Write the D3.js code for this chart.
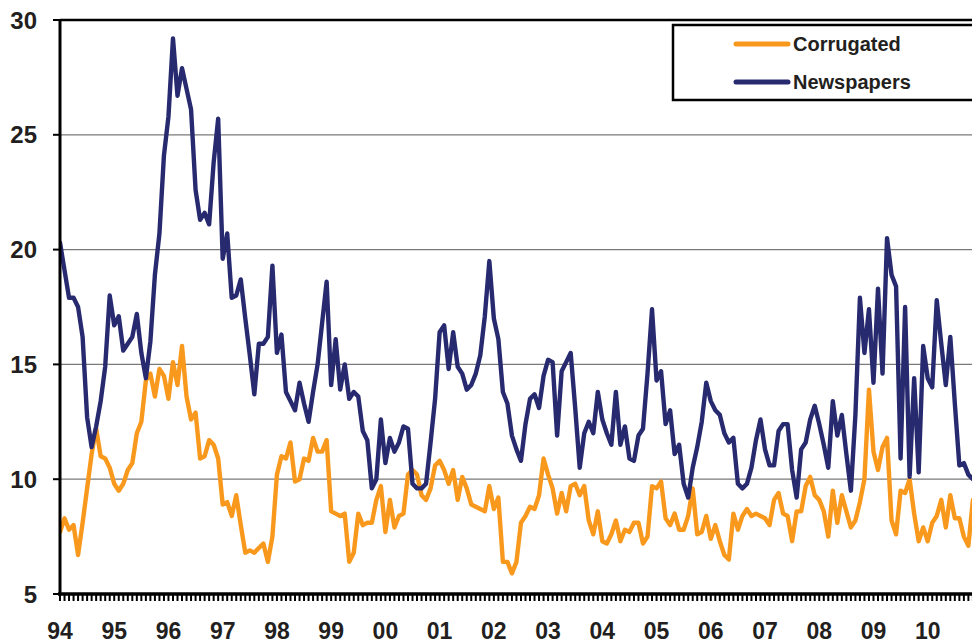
<!DOCTYPE html>
<html>
<head>
<meta charset="utf-8">
<script src="https://cdn.jsdelivr.net/npm/d3@7"></script>
<style>
  html, body { margin: 0; padding: 0; background: #fff; }
  svg { display: block; }
  text { font-family: "Liberation Sans", Arial, sans-serif; font-weight: bold; fill: #231F20; }
</style>
</head>
<body>
<svg id="chart" width="972" height="644"></svg>
<script>
// Monthly values, Jan 1994 onwards
const corrugated = [
  7.7, 8.3, 7.8, 8.0, 6.7, 8.1, 9.6, 11.1, 12.2, 11.0, 10.9, 10.5,      // 1994
  9.8, 9.5, 9.8, 10.4, 10.7, 12.0, 12.5, 14.3, 14.6, 13.6, 14.8, 14.5,  // 1995
  13.5, 15.1, 14.1, 15.8, 13.6, 12.6, 12.9, 10.9, 11.0, 11.7, 11.5, 10.9, // 1996
  8.9, 9.0, 8.4, 9.3, 8.0, 6.8, 6.9, 6.8, 7.0, 7.2, 6.4, 7.5,           // 1997
  10.2, 11.0, 10.9, 11.6, 9.9, 10.0, 10.9, 10.8, 11.8, 11.2, 11.2, 11.7, // 1998
  8.6, 8.5, 8.4, 8.5, 6.4, 6.8, 8.5, 8.0, 8.1, 8.1, 9.1, 9.7,           // 1999
  7.7, 9.1, 7.9, 8.4, 8.5, 10.2, 10.4, 10.2, 9.3, 9.1, 9.6, 10.6,       // 2000
  10.8, 10.4, 9.8, 10.4, 9.1, 10.1, 9.6, 8.9, 8.8, 8.7, 8.6, 9.7,       // 2001
  8.7, 9.2, 6.4, 6.4, 5.9, 6.4, 8.1, 8.4, 8.8, 8.7, 9.3, 10.9,          // 2002
  10.2, 9.6, 8.5, 9.4, 8.6, 9.7, 9.8, 9.3, 9.7, 8.2, 7.6, 8.6,          // 2003
  7.3, 7.2, 7.6, 8.2, 7.3, 7.8, 7.7, 8.1, 8.1, 7.2, 7.5, 9.7,           // 2004
  9.6, 9.9, 8.3, 8.0, 8.5, 7.8, 7.8, 8.4, 9.6, 7.6, 7.7, 8.4,           // 2005
  7.4, 8.0, 7.3, 6.7, 6.5, 8.5, 7.8, 8.4, 8.7, 8.4, 8.5, 8.4,           // 2006
  8.3, 8.0, 9.1, 9.4, 8.5, 8.4, 7.3, 8.6, 8.6, 9.7, 10.1, 9.3,          // 2007
  9.1, 8.6, 7.5, 9.5, 8.1, 9.3, 8.6, 7.9, 8.2, 9.0, 10.0, 13.9,         // 2008
  11.2, 10.4, 11.4, 11.8, 8.2, 7.6, 9.5, 9.4, 10.0, 8.5, 7.3, 7.9,      // 2009
  7.3, 8.1, 8.4, 9.1, 7.9, 9.3, 8.3, 8.3, 7.5, 7.1, 9.1                 // 2010
];
const newspapers = [
  20.3, 19.1, 17.9, 17.9, 17.5, 16.2, 12.7, 11.4, 12.3, 13.4, 14.9, 18.0, // 1994
  16.7, 17.1, 15.6, 15.9, 16.2, 17.2, 15.5, 14.4, 16.0, 18.9, 20.7, 24.1, // 1995
  25.8, 29.2, 26.7, 27.9, 27.0, 26.1, 22.6, 21.3, 21.6, 21.1, 23.8, 25.7, // 1996
  19.6, 20.7, 17.9, 18.0, 18.7, 17.0, 15.4, 13.7, 15.9, 15.9, 16.2, 19.3, // 1997
  15.5, 16.3, 13.8, 13.4, 13.0, 14.2, 13.3, 12.5, 13.8, 15.0, 16.8, 18.6, // 1998
  14.1, 16.1, 13.9, 15.0, 13.5, 13.8, 13.6, 12.1, 11.7, 9.6, 10.0, 12.6,  // 1999
  10.7, 11.8, 11.2, 11.6, 12.3, 12.2, 9.8, 9.6, 9.6, 9.8, 11.6, 13.5,     // 2000
  16.4, 16.7, 14.8, 16.4, 14.9, 14.6, 13.9, 14.1, 14.6, 15.4, 17.1, 19.5, // 2001
  17.0, 16.1, 13.8, 13.3, 11.9, 11.3, 10.8, 12.4, 13.5, 13.7, 13.1, 14.5, // 2002
  15.2, 15.1, 11.9, 14.7, 15.1, 15.5, 13.1, 10.5, 12.0, 12.5, 12.0, 13.8, // 2003
  12.6, 12.0, 11.5, 13.8, 11.5, 12.3, 10.9, 10.8, 11.9, 12.2, 14.6, 17.4, // 2004
  14.3, 14.7, 12.4, 13.0, 11.1, 11.5, 9.8, 9.2, 10.5, 11.4, 12.5, 14.2,   // 2005
  13.4, 13.0, 12.8, 12.0, 11.6, 11.8, 9.8, 9.6, 9.8, 10.5, 11.7, 12.6,    // 2006
  11.3, 10.6, 10.6, 12.1, 12.4, 12.4, 10.4, 9.2, 11.3, 11.6, 12.6, 13.2,  // 2007
  12.4, 11.5, 10.5, 13.4, 11.9, 12.8, 11.1, 9.5, 12.8, 17.9, 15.5, 17.4,  // 2008
  14.2, 18.3, 14.6, 20.5, 18.9, 18.4, 10.9, 17.5, 10.1, 14.4, 10.3, 15.8, // 2009
  14.4, 14.0, 17.8, 15.9, 14.1, 16.2, 13.3, 10.6, 10.7, 10.2, 10.0        // 2010
];
const yearLabels = ["94","95","96","97","98","99","00","01","02","03","04","05","06","07","08","09","10"];
const yTicks = [5, 10, 15, 20, 25, 30];
const seriesNames = ["Corrugated", "Newspapers"];
const seriesColors = ["#F8991D", "#282A70"];

(function () {
  const svg = d3.select("#chart");
  const W = 972, H = 644;
  const pL = 60, pT = 20, pB = 594, pR = 972;

  const x = d3.scaleLinear().domain([0, 201.8]).range([pL, pR]);
  const y = d3.scaleLinear().domain([5, 30]).range([pB, pT]);

  svg.append("rect").attr("width", W).attr("height", H).attr("fill", "#fff");

  // gridlines
  svg.append("g").selectAll("line").data(yTicks.filter(v => v > 5 && v < 30)).join("line")
    .attr("x1", pL).attr("x2", pR)
    .attr("y1", d => y(d)).attr("y2", d => y(d))
    .attr("stroke", "#7a7a7a").attr("stroke-width", 1.3);

  // top border
  svg.append("line").attr("x1", pL).attr("x2", pR).attr("y1", y(30)).attr("y2", y(30))
    .attr("stroke", "#000").attr("stroke-width", 2.5);

  // series
  svg.append("clipPath").attr("id", "clip").append("rect")
    .attr("x", pL).attr("y", 0).attr("width", pR - pL).attr("height", pB);
  const line = d3.line().x((d, i) => x(i)).y(d => y(d));
  [corrugated, newspapers].forEach((s, k) => {
    svg.append("path").datum(s)
      .attr("clip-path", "url(#clip)")
      .attr("d", line)
      .attr("fill", "none")
      .attr("stroke", seriesColors[k])
      .attr("stroke-width", 4.4)
      .attr("stroke-linejoin", "round")
      .attr("stroke-linecap", "round");
  });

  // x axis: monthly ticks
  const months = d3.range(0, 203);
  svg.append("g").selectAll("line").data(months).join("line")
    .attr("x1", d => x(d)).attr("x2", d => x(d))
    .attr("y1", pB).attr("y2", pB + 7)
    .attr("stroke", "#000").attr("stroke-width", 2);
  svg.append("line").attr("x1", pL - 2).attr("x2", pR).attr("y1", pB).attr("y2", pB)
    .attr("stroke", "#000").attr("stroke-width", 3.5);

  svg.append("g").selectAll("text").data(yearLabels).join("text")
    .attr("x", (d, i) => x(i * 12))
    .attr("y", 639)
    .attr("text-anchor", "middle")
    .attr("font-size", 23)
    .text(d => d);

  // y axis
  svg.append("line").attr("x1", pL).attr("x2", pL).attr("y1", pT - 1).attr("y2", pB + 1)
    .attr("stroke", "#000").attr("stroke-width", 3);
  svg.append("g").selectAll("line").data(yTicks).join("line")
    .attr("x1", pL - 7).attr("x2", pL)
    .attr("y1", d => y(d)).attr("y2", d => y(d))
    .attr("stroke", "#000").attr("stroke-width", 2);
  svg.append("g").selectAll("text").data(yTicks).join("text")
    .attr("x", 37)
    .attr("y", d => y(d))
    .attr("dy", "0.36em")
    .attr("text-anchor", "end")
    .attr("font-size", 24)
    .text(d => d);

  // legend
  const lg = svg.append("g");
  lg.append("rect").attr("x", 673).attr("y", 25).attr("width", 320).attr("height", 75)
    .attr("fill", "#fff").attr("stroke", "#000").attr("stroke-width", 2.5);
  seriesNames.forEach((n, k) => {
    const ly = 44 + k * 38;
    lg.append("line").attr("x1", 736).attr("x2", 788).attr("y1", ly).attr("y2", ly)
      .attr("stroke", seriesColors[k]).attr("stroke-width", 5).attr("stroke-linecap", "round");
    lg.append("text").attr("x", 793).attr("y", ly).attr("dy", "0.36em")
      .attr("font-size", 20).text(n);
  });
})();
</script>
</body>
</html>
